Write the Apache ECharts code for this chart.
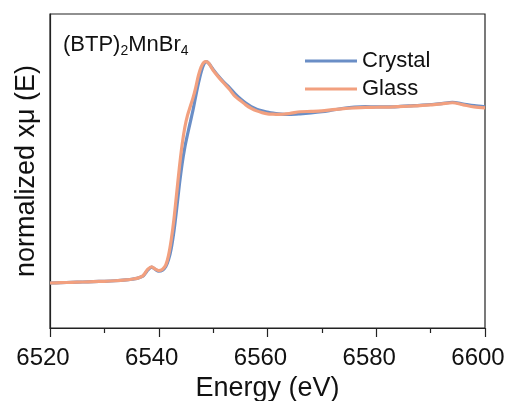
<!DOCTYPE html>
<html>
<head>
<meta charset="utf-8">
<script src="https://cdn.jsdelivr.net/npm/echarts@6/dist/echarts.min.js"></script>
<style>
  html, body { margin: 0; padding: 0; background: #fff; }
  #chart { width: 510px; height: 401px; }
</style>
</head>
<body>
<div id="chart"></div>
<script>
// Mn K-edge XANES, normalized absorption vs photon energy
const energy = [
  6520, 6522, 6524, 6526, 6528, 6530, 6532, 6534, 6535, 6536,
  6537, 6537.5, 6538, 6538.7, 6539.3, 6540, 6540.7, 6541.3, 6541.8, 6542.3,
  6542.8, 6543.3, 6543.8, 6544.3, 6544.8, 6545.3, 6545.8, 6546.3, 6546.8, 6547.3,
  6547.8, 6548.3, 6548.7, 6549.2, 6550, 6551, 6552, 6553, 6554, 6555,
  6556, 6557, 6558, 6559, 6560, 6561, 6562, 6564, 6566, 6568,
  6570, 6572, 6574, 6576, 6578, 6580, 6582, 6584, 6586, 6588,
  6590, 6592, 6594, 6596, 6598, 6600
];

const crystal = [
  0.000, 0.002, 0.004, 0.006, 0.008, 0.010, 0.013, 0.018, 0.022, 0.027,
  0.038, 0.055, 0.076, 0.092, 0.080, 0.068, 0.074, 0.095, 0.135, 0.200,
  0.300, 0.430, 0.570, 0.690, 0.785, 0.860, 0.930, 1.000, 1.080, 1.155,
  1.220, 1.265, 1.280, 1.270, 1.235, 1.195, 1.160, 1.130, 1.095, 1.065,
  1.040, 1.020, 1.005, 0.995, 0.988, 0.982, 0.978, 0.975, 0.978, 0.983,
  0.990, 1.000, 1.010, 1.017, 1.020, 1.018, 1.018, 1.020, 1.024, 1.027,
  1.032, 1.037, 1.045, 1.035, 1.025, 1.018
];

const glass = [
  0.000, 0.002, 0.004, 0.006, 0.008, 0.010, 0.013, 0.018, 0.022, 0.027,
  0.040, 0.058, 0.080, 0.094, 0.082, 0.072, 0.080, 0.105, 0.160, 0.250,
  0.370, 0.520, 0.670, 0.800, 0.900, 0.970, 1.020, 1.070, 1.130, 1.200,
  1.250, 1.275, 1.280, 1.270, 1.230, 1.190, 1.155, 1.120, 1.080, 1.055,
  1.030, 1.010, 0.995, 0.985, 0.978, 0.976, 0.975, 0.980, 0.990, 0.992,
  0.995, 1.002, 1.008, 1.012, 1.015, 1.016, 1.017, 1.020, 1.022, 1.025,
  1.030, 1.035, 1.042, 1.030, 1.018, 1.012
];

const seriesNames = ['Crystal', 'Glass'];
const seriesColors = ['#6a8ec6', '#f2a07f'];
const xTicks = { min: 6520, max: 6600, step: 20 };

const pairs = (ys) => energy.map((e, i) => [e, ys[i]]);

const font = 'Liberation Sans, Arial, Helvetica, sans-serif';
const chart = echarts.init(document.getElementById('chart'), null, { renderer: 'canvas' });

chart.setOption({
  animation: false,
  backgroundColor: '#fff',
  textStyle: { fontFamily: font },
  title: {
    text: '(BTP){sub|2}MnBr{sub|4}',
    left: 58,
    top: 27,
    textStyle: {
      fontFamily: font,
      fontSize: 22,
      fontWeight: 'normal',
      color: '#111',
      rich: {
        sub: { fontFamily: font, fontSize: 14, color: '#111', verticalAlign: 'bottom', padding: [12, 0, 0, 0] }
      }
    }
  },
  legend: {
    orient: 'vertical',
    left: 300,
    top: 45,
    itemWidth: 52,
    itemHeight: 3,
    itemGap: 6,
    icon: 'rect',
    textStyle: { fontFamily: font, fontSize: 22, color: '#111', padding: [0, 0, 0, 0] },
    data: seriesNames
  },
  grid: {
    left: 50, right: 25, top: 14, bottom: 73,
    outerBoundsMode: 'none',
    containLabel: false,
    show: true, borderColor: '#222', borderWidth: 1.2, backgroundColor: 'transparent'
  },
  xAxis: {
    type: 'value',
    min: xTicks.min,
    max: xTicks.max,
    interval: xTicks.step,
    name: 'Energy (eV)',
    nameLocation: 'middle',
    nameGap: 44,
    nameTextStyle: { fontFamily: font, fontSize: 27, color: '#111' },
    axisLine: { show: true, onZero: false, lineStyle: { color: '#222', width: 1.2 } },
    axisTick: { show: true, inside: false, length: 9, lineStyle: { color: '#222', width: 1.2 } },
    minorTick: { show: true, splitNumber: 2, length: 5, lineStyle: { color: '#222', width: 1.2 } },
    axisLabel: {
      fontFamily: font, fontSize: 24, color: '#111', margin: 18,
      padding: [0, 14, 0, 0],
      formatter: (v) => String(v)
    },
    splitLine: { show: false }
  },
  yAxis: {
    type: 'value',
    min: -0.26,
    max: 1.555,
    name: 'normalized xμ (E)',
    nameLocation: 'middle',
    nameGap: 10,
    nameTextStyle: { fontFamily: font, fontSize: 27, color: '#111' },
    axisLine: { show: true, onZero: false, lineStyle: { color: '#222', width: 1.2 } },
    axisTick: { show: false },
    axisLabel: { show: false },
    splitLine: { show: false }
  },
  series: seriesNames.map((name, k) => ({
    name,
    type: 'line',
    data: pairs([crystal, glass][k]),
    showSymbol: false,
    smooth: 0.3,
    color: seriesColors[k],
    lineStyle: { width: 3.2, color: seriesColors[k] },
    z: 2 + k
  }))
});
</script>
</body>
</html>
